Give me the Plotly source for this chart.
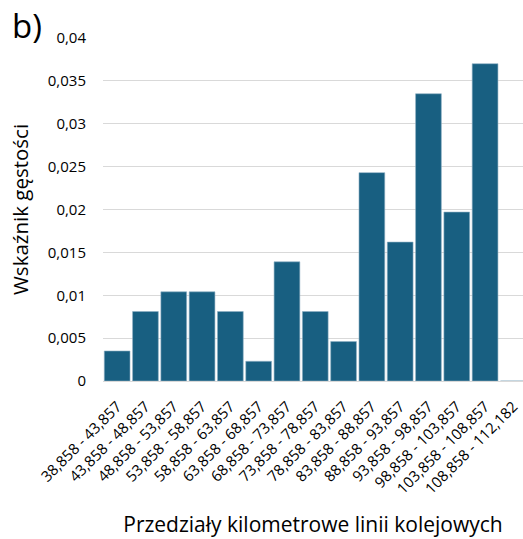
import plotly.graph_objects as go

# Kilometre intervals along the railway line
categories = [
    "38,858 - 43,857", "43,858 - 48,857", "48,858 - 53,857", "53,858 - 58,857",
    "58,858 - 63,857", "63,858 - 68,857", "68,858 - 73,857", "73,858 - 78,857",
    "78,858 - 83,857", "83,858 - 88,857", "88,858 - 93,857", "93,858 - 98,857",
    "98,858 - 103,857", "103,858 - 108,857", "108,858 - 112,182",
]
# Density index per interval
density = [
    0.0035, 0.0081, 0.0104, 0.0104, 0.0081, 0.0023, 0.0139, 0.0081,
    0.0046, 0.0243, 0.0162, 0.0335, 0.0197, 0.0370, 0.0,
]
y_tickvals = [0, 0.005, 0.01, 0.015, 0.02, 0.025, 0.03, 0.035, 0.04]
y_ticktext = ["0", "0,005", "0,01", "0,015", "0,02", "0,025", "0,03", "0,035", "0,04"]

FONT = "Open Sans, Lato, sans-serif"

fig = go.Figure(
    go.Bar(
        x=list(range(len(categories))),
        y=density,
        marker=dict(color="#185f81", line=dict(color="#8fb0c4", width=0.6)),
        width=0.91,
    )
)

fig.update_layout(
    width=523,
    height=539,
    margin=dict(l=103, r=0, t=37.5, b=158),
    paper_bgcolor="white",
    plot_bgcolor="white",
    showlegend=False,
    font=dict(family=FONT, size=14, color="#262626"),
    annotations=[
        dict(
            text="b)", x=12, y=6, xref="paper", yref="paper",
            xanchor="left", yanchor="top", showarrow=False,
            font=dict(size=33, color="black", family=FONT),
        )
    ],
)
# place "b)" near the top-left corner of the page
fig.layout.annotations[0].update(x=(10 - 103) / 420, y=1 + (37.5 - 0) / 343.5)

fig.update_xaxes(
    tickmode="array",
    tickvals=list(range(len(categories))),
    ticktext=categories,
    tickangle=-45,
    range=[-0.5, 14.34],
    tickfont=dict(size=15, color="black"),
    showgrid=False,
    showline=True,
    linecolor="#d9d9d9",
    linewidth=1,
    ticks="",
    ticklabelstandoff=10,
    title=dict(text="Przedziały kilometrowe linii kolejowych",
               font=dict(size=21, color="black"), standoff=20),
    zeroline=False,
)
fig.update_yaxes(
    range=[0, 0.04],
    tickmode="array",
    tickvals=y_tickvals,
    ticktext=y_ticktext,
    tickfont=dict(size=15, color="black"),
    showgrid=True,
    gridcolor="#d9d9d9",
    gridwidth=1,
    zeroline=False,
    ticks="",
    ticklabelstandoff=16,
    title=dict(text="Wskaźnik gęstości", font=dict(size=20.5, color="black"), standoff=13),
)

fig.write_html("out.html")
